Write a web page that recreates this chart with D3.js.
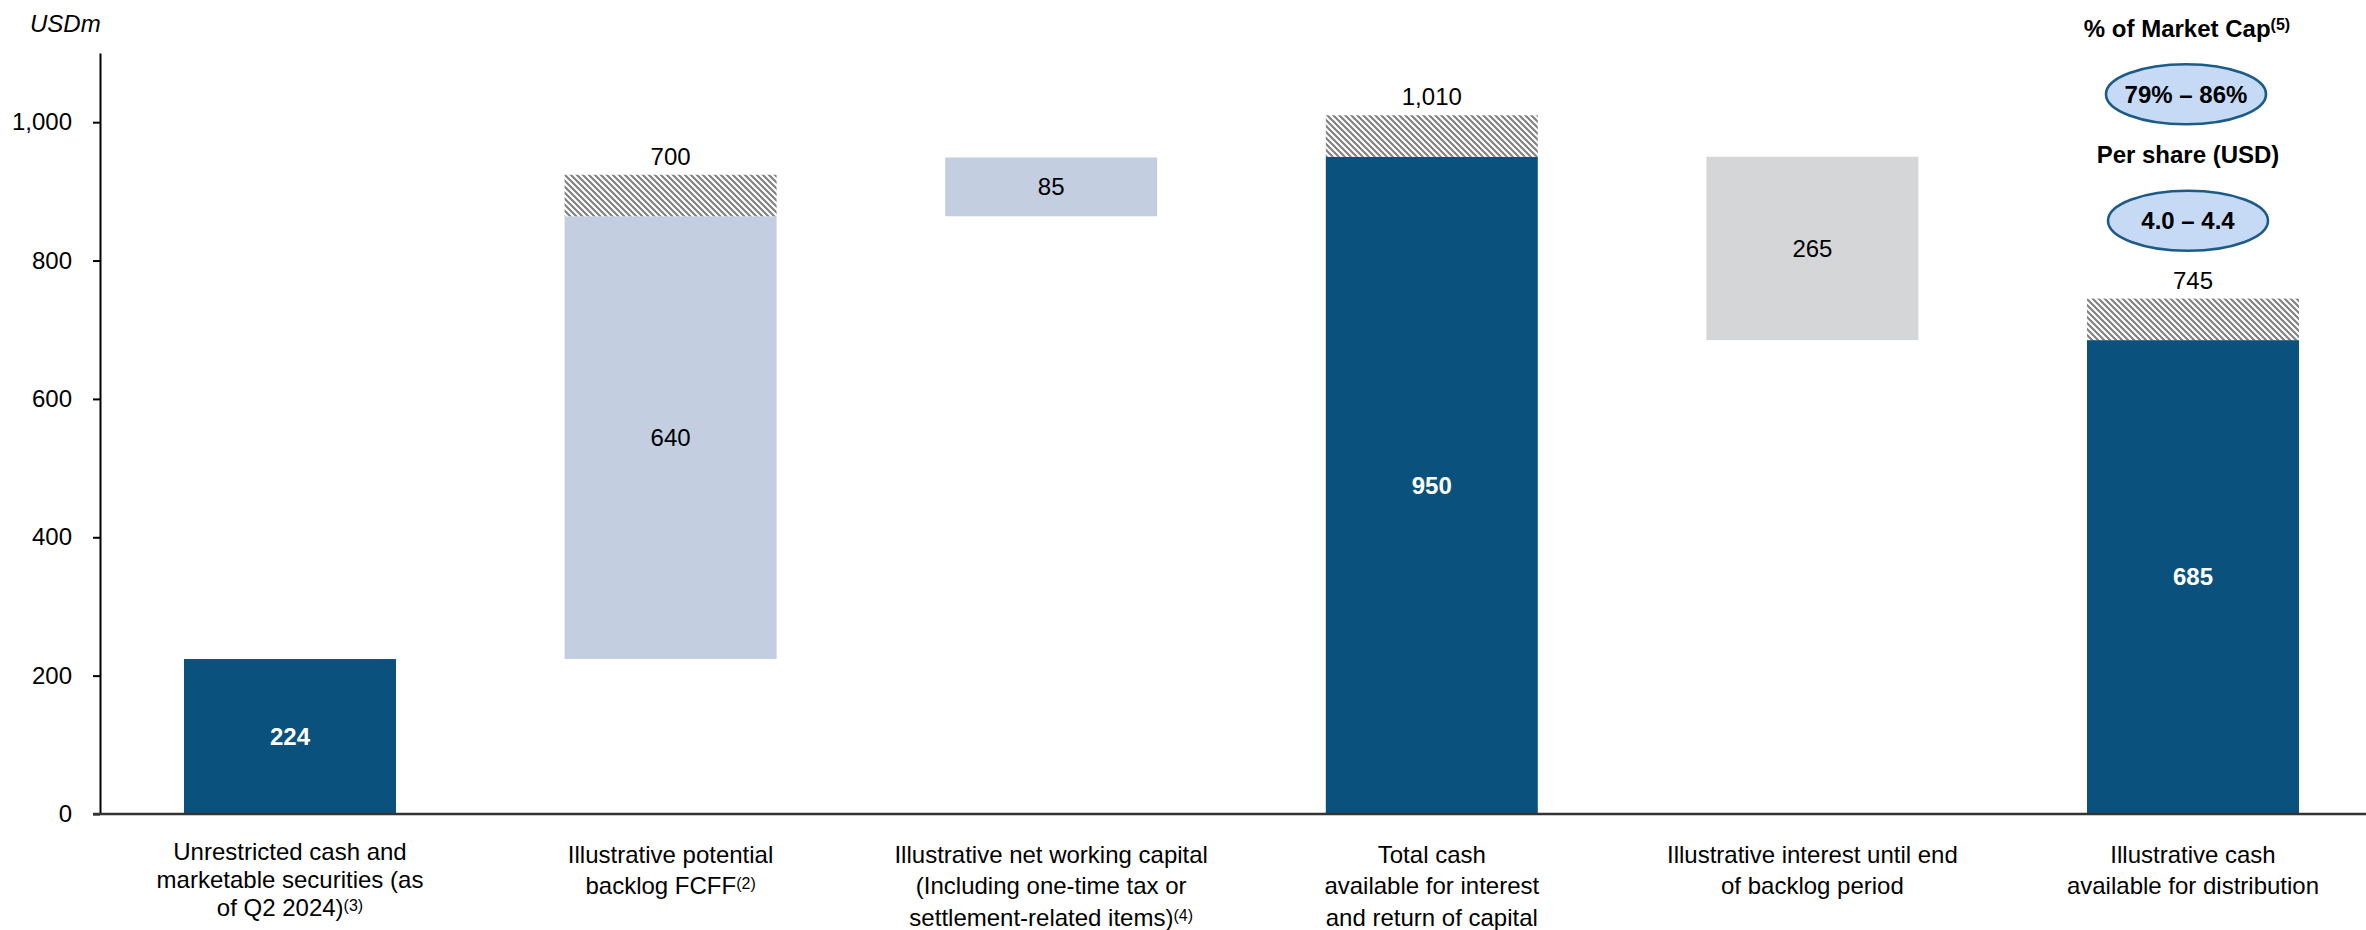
<!DOCTYPE html>
<html>
<head>
<meta charset="utf-8">
<script src="https://cdn.jsdelivr.net/npm/d3@7"></script>
<style>
  html, body { margin: 0; padding: 0; background: #fff; }
  svg { display: block; }
  text { font-family: "Liberation Sans", Arial, Helvetica, sans-serif; }
</style>
</head>
<body>
<svg id="chart" width="2366" height="930"></svg>
<script>
// ---------- data ----------
const categories = ["cash", "fcff", "nwc", "total", "interest", "distribution"];
const categoryLabels = [
  ["Unrestricted cash and", "marketable securities (as", "of Q2 2024)^(3)"],
  ["Illustrative potential", "backlog FCFF^(2)"],
  ["Illustrative net working capital", "(Including one-time tax or", "settlement-related items)^(4)"],
  ["Total cash", "available for interest", "and return of capital"],
  ["Illustrative interest until end", "of backlog period"],
  ["Illustrative cash", "available for distribution"]
];
const barTypes = ["total", "delta", "delta", "total", "delta", "total"];
const barValues = [224, 640, 85, 950, -265, 685];
const barLabels = ["224", "640", "85", "950", "265", "685"];
const rangeExtra = [0, 60, 0, 60, 0, 60];          // hatched upper range
const rangeLabels = ["", "700", "", "1,010", "", "745"];
const yTicks = [0, 200, 400, 600, 800, 1000];
const yMax = 1100;
const unitLabel = "USDm";
const marketCapTitle = "% of Market Cap";
const marketCapNote = "(5)";
const marketCapRange = "79% \u2013 86%";
const perShareTitle = "Per share (USD)";
const perShareRange = "4.0 \u2013 4.4";

// ---------- build waterfall ----------
let running = 0;
const bars = categories.map((c, i) => {
  let y0, y1;
  if (barTypes[i] === "total") {
    y0 = 0; y1 = barValues[i]; running = barValues[i];
  } else {
    y0 = running; y1 = running + barValues[i]; running = y1;
  }
  return {
    key: c, i, type: barTypes[i], lo: Math.min(y0, y1), hi: Math.max(y0, y1),
    neg: barValues[i] < 0, label: barLabels[i],
    extra: rangeExtra[i], rangeLabel: rangeLabels[i], lines: categoryLabels[i]
  };
});

// ---------- layout ----------
const svg = d3.select("#chart");
const FONT = 24;
const x = d3.scaleBand().domain(categories).range([100, 2383])
  .paddingInner(0.443).paddingOuter(0.2207);
const y = d3.scaleLinear().domain([0, yMax]).range([814, 53]);

const colors = { total: "#0A527D", pos: "#C3CEE0", neg: "#D5D6D8" };

// hatch pattern
const defs = svg.append("defs");
const pat = defs.append("pattern").attr("id", "hatch")
  .attr("patternUnits", "userSpaceOnUse").attr("width", 6).attr("height", 6);
pat.append("rect").attr("width", 6).attr("height", 6).attr("fill", "#fff");
pat.append("path").attr("d", "M-1,-1 L7,7 M-1,5 L1,7 M5,-1 L7,1")
  .attr("stroke", "#808080").attr("stroke-width", 2.1);

// bars
const g = svg.append("g");
g.selectAll("rect.bar").data(bars).join("rect").attr("class", "bar")
  .attr("x", d => x(d.key)).attr("width", x.bandwidth())
  .attr("y", d => y(d.hi)).attr("height", d => y(d.lo) - y(d.hi))
  .attr("fill", d => d.type === "total" ? colors.total : (d.neg ? colors.neg : colors.pos));

// hatched range
g.selectAll("rect.range").data(bars.filter(d => d.extra > 0)).join("rect").attr("class", "range")
  .attr("x", d => x(d.key)).attr("width", x.bandwidth())
  .attr("y", d => y(d.hi + d.extra)).attr("height", d => y(d.hi) - y(d.hi + d.extra))
  .attr("fill", "url(#hatch)");

// range labels
g.selectAll("text.rlab").data(bars.filter(d => d.extra > 0)).join("text").attr("class", "rlab")
  .attr("x", d => x(d.key) + x.bandwidth() / 2)
  .attr("y", d => y(d.hi + d.extra) - 10)
  .attr("text-anchor", "middle").attr("font-size", FONT).attr("fill", "#000")
  .text(d => d.rangeLabel);

// inside labels
g.selectAll("text.vlab").data(bars).join("text").attr("class", "vlab")
  .attr("x", d => x(d.key) + x.bandwidth() / 2)
  .attr("y", d => (y(d.lo) + y(d.hi)) / 2)
  .attr("dy", "0.35em")
  .attr("text-anchor", "middle").attr("font-size", FONT)
  .attr("font-weight", d => d.type === "total" ? "bold" : "normal")
  .attr("fill", d => d.type === "total" ? "#fff" : "#000")
  .text(d => d.label);

// y axis
const yAxis = d3.axisLeft(y).tickValues(yTicks).tickFormat(d3.format(","))
  .tickSize(7).tickSizeOuter(0).tickPadding(21);
const ya = svg.append("g").attr("transform", "translate(100,0)").call(yAxis);
ya.select(".domain").attr("stroke", "#000").attr("stroke-width", 2);
ya.selectAll(".tick line").attr("stroke", "#000").attr("stroke-width", 2);
ya.selectAll(".tick text").attr("font-size", FONT).attr("fill", "#000")
  .attr("font-family", '"Liberation Sans", Arial, sans-serif');

// x axis baseline
svg.append("line").attr("x1", 93).attr("x2", 2366).attr("y1", y(0)).attr("y2", y(0))
  .attr("stroke", "#333").attr("stroke-width", 2.5);

// unit label
svg.append("text").attr("x", 30).attr("y", 32).attr("font-size", FONT)
  .attr("font-style", "italic").attr("fill", "#000").text(unitLabel);

// category labels
function addRich(sel, str, supSize, supDy) {
  const parts = str.split("^");
  sel.append("tspan").text(parts[0]);
  if (parts[1]) sel.append("tspan").attr("font-size", supSize).attr("dy", supDy).text(parts[1]);
}
bars.forEach(d => {
  const cx = x(d.key) + x.bandwidth() / 2;
  const first = d.i === 0 ? 859.5 : 862.5;
  const gap = d.i === 0 ? 28.4 : 31.6;
  d.lines.forEach((ln, j) => {
    const t = svg.append("text").attr("x", cx).attr("y", first + j * gap)
      .attr("text-anchor", "middle").attr("font-size", FONT).attr("fill", "#000");
    addRich(t, ln, 16, -5);
  });
});

// annotations (top right)
const ax = x("distribution") + x.bandwidth() / 2 - 6;
const t1 = svg.append("text").attr("x", ax).attr("y", 37).attr("text-anchor", "middle")
  .attr("font-size", FONT).attr("font-weight", "bold").attr("fill", "#000");
t1.append("tspan").text(marketCapTitle);
t1.append("tspan").attr("font-size", 16).attr("dy", -7).text(marketCapNote);

svg.append("ellipse").attr("cx", ax - 1).attr("cy", 94.3).attr("rx", 80).attr("ry", 30)
  .attr("fill", "#C6DAF6").attr("stroke", "#1D5B87").attr("stroke-width", 2.6);
svg.append("text").attr("x", ax - 1).attr("y", 94.3).attr("dy", "0.35em").attr("text-anchor", "middle")
  .attr("font-size", FONT).attr("font-weight", "bold").attr("fill", "#000").text(marketCapRange);

svg.append("text").attr("x", ax + 1).attr("y", 163).attr("text-anchor", "middle")
  .attr("font-size", FONT).attr("font-weight", "bold").attr("fill", "#000").text(perShareTitle);

svg.append("ellipse").attr("cx", ax + 1).attr("cy", 220.7).attr("rx", 80).attr("ry", 30)
  .attr("fill", "#C6DAF6").attr("stroke", "#1D5B87").attr("stroke-width", 2.6);
svg.append("text").attr("x", ax + 1).attr("y", 220.7).attr("dy", "0.35em").attr("text-anchor", "middle")
  .attr("font-size", FONT).attr("font-weight", "bold").attr("fill", "#000").text(perShareRange);
</script>
</body>
</html>
